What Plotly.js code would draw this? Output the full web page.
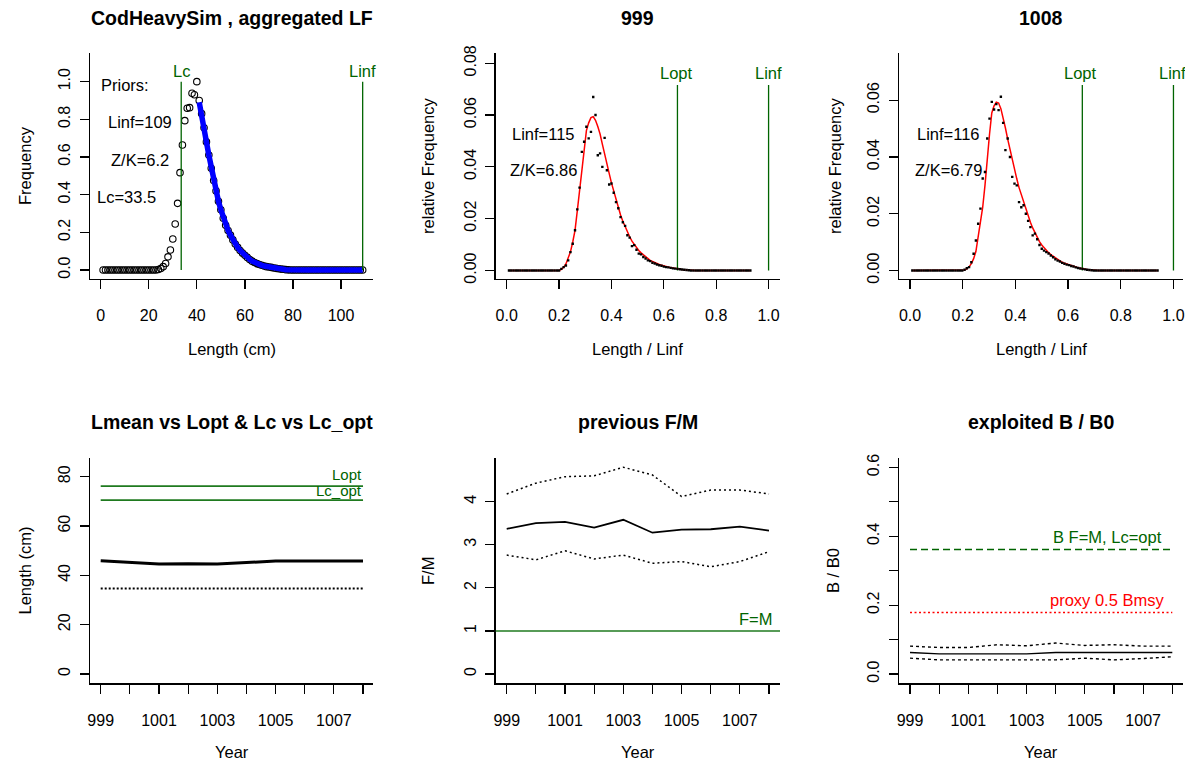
<!DOCTYPE html>
<html>
<head>
<meta charset="utf-8">
<script src="https://cdn.plot.ly/plotly-3.0.1.min.js"></script>
<style>html,body{margin:0;padding:0;background:#fff;}#chart{width:1185px;height:761px;}</style>
</head>
<body>
<div id="chart"></div>
<script>
// ---------- DATA ----------
const lenCm = [1,2,3,4,5,6,7,8,9,10,11,12,13,14,15,16,17,18,19,20,21,22,23,24,25,26,27,28,29,30,31,32,33,34,35,36,37,38,39,40,41,42,43,44,45,46,47,48,49,50,51,52,53,54,55,56,57,58,59,60,61,62,63,64,65,66,67,68,69,70,71,72,73,74,75,76,77,78,79,80,81,82,83,84,85,86,87,88,89,90,91,92,93,94,95,96,97,98,99,100,101,102,103,104,105,106,107,108,109];

// aggregated LF (frequency scaled to max = 1)
const aggFreq = [0,0,0,0,0,0,0,0,0,0,0,0,0,0,0,0,0,0,0,0,0,0,0,
  0.003,0.008,0.018,0.035,0.07,0.106,0.165,0.244,0.354,0.517,0.664,0.793,0.859,0.862,0.938,0.93,1.0,
  0.90,0.83,0.755,0.68,0.61,0.54,0.475,0.42,0.365,0.32,0.275,0.237,0.21,0.185,0.16,0.138,0.12,0.104,0.09,0.078,
  0.067,0.056,0.047,0.04,0.034,0.029,0.025,0.021,0.018,0.016,0.014,0.011,0.009,0.007,0.005,0.004,0.002,0.001,
  0,0,0,0,0,0,0,0,0,0,0,0,0,0,0,0,0,0,0,0,0,0,0,0,0,0,0,0,0,0,0];
// fitted curve (blue) for lengths 41..109
const aggFitLen = [41,42,43,44,45,46,47,48,49,50,51,52,53,54,55,56,57,58,59,60,61,62,63,64,65,66,67,68,69,70,71,72,73,74,75,76,77,78,79,80,81,82,83,84,85,86,87,88,89,90,91,92,93,94,95,96,97,98,99,100,101,102,103,104,105,106,107,108,109];
const aggFit = [0.89,0.83,0.755,0.68,0.61,0.54,0.475,0.42,0.365,0.32,0.275,0.237,0.21,0.185,0.16,0.138,0.12,0.104,0.09,0.078,
  0.067,0.056,0.047,0.04,0.034,0.029,0.025,0.021,0.018,0.016,0.014,0.011,0.009,0.007,0.005,0.004,0.002,0.001,
  0,0,0,0,0,0,0,0,0,0,0,0,0,0,0,0,0,0,0,0,0,0,0,0,0,0,0,0,0,0,0];

const priorLinf = 109, priorZK = 6.2, priorLc = 33.5;

// year 999 (lengths 1..107)
const y999Linf = 115, y999ZK = 6.86, y999Lopt = 0.652;
const y999Obs = [0,0,0,0,0,0,0,0,0,0,0,0,0,0,0,0,0,0,0,0,0,0,0,
  0.0006,0.0013,0.0019,0.0039,0.0071,0.0103,0.0155,0.0236,0.032,0.0458,0.0497,0.0555,0.051,0.0535,0.067,0.060,0.0445,
  0.0452,0.040,0.0512,0.0387,0.0332,0.0336,0.030,0.0264,0.024,0.0206,0.0186,0.0172,0.0136,0.0127,0.0094,0.0098,0.008,
  0.0065,0.0062,0.0052,0.0046,0.0039,0.0036,0.003,0.0027,0.0023,0.002,0.0018,0.0015,0.0013,0.0012,0.001,0.0008,0.0007,
  0.0006,0.0005,0.0004,0.0003,0.0002,0.0001,
  0,0,0,0,0,0,0,0,0,0,0,0,0,0,0,0,0,0,0,0,0,0,0,0,0,0,0];
const y999Fit = [0,0,0,0,0,0,0,0,0,0,0,0,0,0,0,0,0,0,0,0,0,0,0,
  0.0004,0.0012,0.0025,0.0045,0.0072,0.011,0.0155,0.023,0.031,0.040,0.048,0.054,0.057,0.059,0.0594,0.058,0.0556,
  0.0527,0.0488,0.0447,0.041,0.0375,0.0338,0.0305,0.0272,0.0243,0.0214,0.019,0.0168,0.015,0.013,0.0113,0.010,0.0088,
  0.0077,0.0068,0.006,0.0052,0.0045,0.0039,0.0035,0.003,0.0026,0.0023,0.002,0.0017,0.0015,0.0013,0.0011,0.001,0.0008,
  0.0007,0.0005,0.0004,0.0003,0.0002,0.0002,
  0,0,0,0,0,0,0,0,0,0,0,0,0,0,0,0,0,0,0,0,0,0,0,0,0,0,0];

// year 1008 (lengths 1..109)
const y1008Linf = 116, y1008ZK = 6.79, y1008Lopt = 0.654;
const y1008Obs = [0,0,0,0,0,0,0,0,0,0,0,0,0,0,0,0,0,0,0,0,0,0,0,
  0.0003,0.0008,0.0012,0.0029,0.0059,0.0106,0.0165,0.0218,0.0324,0.0347,0.0465,0.0535,0.0594,0.0567,0.0586,0.0565,0.0612,
  0.052,0.0424,0.0465,0.040,0.033,0.0306,0.030,0.0241,0.0223,0.023,0.020,0.0175,0.0153,0.0124,0.013,0.011,0.009,
  0.0077,0.007,0.0065,0.006,0.0053,0.0047,0.004,0.0035,0.0032,0.0027,0.0024,0.0021,0.0019,0.0016,0.0014,0.0011,0.0009,
  0.0007,0.0006,0.0004,0.0003,0.0002,0.0001,
  0,0,0,0,0,0,0,0,0,0,0,0,0,0,0,0,0,0,0,0,0,0,0,0,0,0,0,0,0];
const y1008Fit = [0,0,0,0,0,0,0,0,0,0,0,0,0,0,0,0,0,0,0,0,0,0,0,
  0.0002,0.0006,0.0013,0.0024,0.0042,0.0067,0.0115,0.0165,0.0223,0.030,0.040,0.048,0.0555,0.058,0.0593,0.059,0.057,
  0.054,0.0502,0.0463,0.0425,0.0388,0.0355,0.0323,0.0292,0.0266,0.024,0.0215,0.0192,0.017,0.015,0.0133,0.0117,0.0102,
  0.009,0.008,0.0071,0.0063,0.0056,0.005,0.0044,0.0038,0.0033,0.0029,0.0026,0.0023,0.002,0.0018,0.0015,0.0012,0.001,
  0.0008,0.0006,0.0005,0.0004,0.0003,0.0002,
  0,0,0,0,0,0,0,0,0,0,0,0,0,0,0,0,0,0,0,0,0,0,0,0,0,0,0,0,0];

// time series
const years = [999,1000,1001,1002,1003,1004,1005,1006,1007,1008];
const yearLabels = ['999','','1001','','1003','','1005','','1007',''];
const Lmean = [45.9,45.25,44.6,44.75,44.6,45.2,45.8,45.8,45.8,45.8];
const LcYear = [34.7,34.7,34.8,34.7,34.8,34.7,34.7,34.7,34.7,34.7];
const LoptVal = 76.2, LcOptVal = 70.5;
const FM = [3.37,3.50,3.53,3.40,3.58,3.28,3.35,3.36,3.42,3.33];
const FMup = [4.18,4.43,4.58,4.60,4.80,4.62,4.12,4.27,4.27,4.18];
const FMlo = [2.76,2.65,2.86,2.67,2.76,2.57,2.61,2.49,2.61,2.84];
const BB0 = [0.0625,0.0585,0.0585,0.0585,0.0585,0.0625,0.0625,0.0625,0.0625,0.0625];
const BB0up = [0.081,0.077,0.077,0.085,0.082,0.090,0.083,0.085,0.081,0.081];
const BB0lo = [0.046,0.041,0.041,0.041,0.041,0.041,0.046,0.041,0.045,0.050];
const BFMLcOpt = 0.362, proxyHalfBmsy = 0.179;

// ---------- LAYOUT HELPERS ----------
const W = 1185, H = 761;
const FONT = 'Liberation Sans, Arial, Helvetica, sans-serif';
const GREEN = '#006400';
const fx = p => p / W, fy = p => 1 - p / H;

function axis(domPx, range, extra, isY) {
  const a = {
    domain: isY ? [fy(domPx[1]), fy(domPx[0])] : [fx(domPx[0]), fx(domPx[1])],
    range: range, autorange: false, fixedrange: true,
    showline: true, linecolor: '#000', linewidth: 1.3, mirror: false,
    ticks: 'outside', ticklen: 9, tickwidth: 1.2, tickcolor: '#000',
    showgrid: false, zeroline: false,
    ticklabelstandoff: isY ? 3 : 13,
    tickfont: {family: FONT, size: 16, color: '#000'}
  };
  if (isY) a.tickangle = -90;
  return Object.assign(a, extra);
}

const colX = [[90, 373], [495.7, 780], [899, 1183]];
const topY = [53, 278.5], botY = [458.3, 683.3];

const layout = {
  width: W, height: H, margin: {l: 0, r: 0, t: 0, b: 0},
  paper_bgcolor: '#fff', plot_bgcolor: '#fff', showlegend: false,
  xaxis:  axis(colX[0], [-4.45, 113.3], {anchor: 'y', tickvals: [0,20,40,60,80,100]}),
  yaxis:  axis(topY, [-0.045, 1.152], {anchor: 'x', tickvals: [0,0.2,0.4,0.6,0.8,1.0], tickformat: '.1f'}, true),
  xaxis2: axis(colX[1], [-0.042, 1.0436], {anchor: 'y2', tickvals: [0,0.2,0.4,0.6,0.8,1.0], tickformat: '.1f'}),
  yaxis2: axis(topY, [-0.0031, 0.08396], {anchor: 'x2', tickvals: [0,0.02,0.04,0.06,0.08], tickformat: '.2f'}, true),
  xaxis3: axis(colX[2], [-0.0419, 1.0362], {anchor: 'y3', tickvals: [0,0.2,0.4,0.6,0.8,1.0], tickformat: '.1f'}),
  yaxis3: axis(topY, [-0.0028, 0.0766], {anchor: 'x3', tickvals: [0,0.02,0.04,0.06], tickformat: '.2f'}, true),
  xaxis4: axis(colX[0], [998.633, 1008.342], {anchor: 'y4', tickvals: years, ticktext: yearLabels}),
  yaxis4: axis(botY, [-3.77, 87.47], {anchor: 'x4', tickvals: [0,20,40,60,80]}, true),
  xaxis5: axis(colX[1], [998.622, 1008.377], {anchor: 'y5', tickvals: years, ticktext: yearLabels}),
  yaxis5: axis(botY, [-0.216, 5.007], {anchor: 'x5', tickvals: [0,1,2,3,4]}, true),
  xaxis6: axis(colX[2], [998.622, 1008.367], {anchor: 'y6', tickvals: years, ticktext: yearLabels}),
  yaxis6: axis(botY, [-0.027, 0.6266], {anchor: 'x6', tickvals: [0,0.1,0.2,0.3,0.4,0.5,0.6], ticktext: ['0.0','','0.2','','0.4','','0.6']}, true),
  annotations: [], shapes: []
};

function ann(text, x, y, o) {
  layout.annotations.push(Object.assign({
    text: text, xref: 'paper', yref: 'paper', x: fx(x), y: fy(y),
    xanchor: 'center', yanchor: 'middle', showarrow: false,
    font: {family: FONT, size: 16.5, color: '#000'}
  }, o || {}));
}
const titleFont = {family: FONT, size: 19.5, color: '#000'};
const labFont = {family: FONT, size: 16.5, color: '#000'};
const greenFont = {family: FONT, size: 16.5, color: GREEN};
const greenSmall = {family: FONT, size: 15, color: GREEN};

// titles
ann('<b>CodHeavySim , aggregated LF</b>', 231.5, 18, {font: titleFont});
ann('<b>' + years[0] + '</b>', 637.8, 18, {font: titleFont});
ann('<b>' + years[years.length - 1] + '</b>', 1041, 18, {font: titleFont});
ann('<b>Lmean vs Lopt & Lc vs Lc_opt</b>', 231.7, 422, {font: titleFont});
ann('<b>previous F/M</b>', 637.8, 422, {font: titleFont});
ann('<b>exploited B / B0</b>', 1041, 422, {font: titleFont});

// axis titles
ann('Length (cm)', 231.5, 349, {font: labFont});
ann('Length / Linf', 637.8, 349, {font: labFont});
ann('Length / Linf', 1041, 349, {font: labFont});
ann('Year', 231.7, 752, {font: labFont});
ann('Year', 637.8, 752, {font: labFont});
ann('Year', 1041, 752, {font: labFont});
ann('Frequency', 25, 166, {font: labFont, textangle: -90});
ann('relative Frequency', 428, 166, {font: labFont, textangle: -90});
ann('relative Frequency', 835, 166, {font: labFont, textangle: -90});
ann('Length (cm)', 24.5, 571, {font: labFont, textangle: -90});
ann('F/M', 428, 571, {font: labFont, textangle: -90});
ann('B / B0', 833, 571, {font: labFont, textangle: -90});

// in-plot text
ann('Priors:', 125, 85);
ann('Linf=' + priorLinf, 140, 122);
ann('Z/K=' + priorZK, 140, 160);
ann('Lc=' + priorLc, 126, 197);
ann('Lc', 181, 71, {font: greenFont});
ann('Linf', 362.7, 71, {font: greenFont});
ann('Linf=' + y999Linf, 543.8, 134);
ann('Z/K=' + y999ZK, 543.7, 170);
ann('Lopt', 676, 73, {font: greenFont});
ann('Linf', 768.3, 73, {font: greenFont});
ann('Linf=' + y1008Linf, 948, 134);
ann('Z/K=' + y1008ZK, 948, 170);
ann('Lopt', 1080.5, 73, {font: greenFont});
ann('Linf', 1172.3, 73, {font: greenFont});
ann('Lopt', 363.5, 474, {font: greenSmall, xanchor: 'right'});
ann('Lc_opt', 363.5, 491, {font: greenSmall, xanchor: 'right'});
ann('F=M', 774, 619, {font: greenFont, xanchor: 'right'});
ann('B F=M, Lc=opt', 1164, 536.5, {font: greenFont, xanchor: 'right'});
ann('proxy 0.5 Bmsy', 1166, 600, {font: {family: FONT, size: 16.5, color: '#ff0000'}, xanchor: 'right'});

// F=M reference line spanning the whole plot width
layout.shapes.push({type: 'line', xref: 'x5 domain', yref: 'y5', x0: 0, x1: 1, y0: 1, y1: 1,
  line: {color: '#1f7a1f', width: 1.5}});

// ---------- TRACES ----------
const traces = [];
function vline(xv, ytop, xa, ya) {
  traces.push({x: [xv, xv], y: [0, ytop], xaxis: xa, yaxis: ya, mode: 'lines',
    line: {color: GREEN, width: 1.3}, hoverinfo: 'skip'});
}

// panel 1
traces.push({x: lenCm, y: aggFreq, xaxis: 'x', yaxis: 'y', mode: 'markers',
  marker: {symbol: 'circle-open', size: 6.5, color: '#000', line: {width: 1.1, color: '#000'}}});
traces.push({x: aggFitLen, y: aggFit, xaxis: 'x', yaxis: 'y', mode: 'lines',
  line: {color: '#0000ff', width: 5.5}});
vline(priorLc, 1.0, 'x', 'y');
vline(priorLinf, 1.0, 'x', 'y');

// panel 2
const x999 = lenCm.slice(0, y999Obs.length).map(l => l / y999Linf);
vline(y999Lopt, 0.0716, 'x2', 'y2');
vline(1.0, 0.0716, 'x2', 'y2');
traces.push({x: x999, y: y999Fit, xaxis: 'x2', yaxis: 'y2', mode: 'lines', line: {color: '#ff0000', width: 1.5}});
traces.push({x: x999, y: y999Obs, xaxis: 'x2', yaxis: 'y2', mode: 'markers',
  marker: {symbol: 'square', size: 2.4, color: '#000', line: {width: 0}}});

// panel 3
const x1008 = lenCm.slice(0, y1008Obs.length).map(l => l / y1008Linf);
vline(y1008Lopt, 0.0653, 'x3', 'y3');
vline(1.0, 0.0653, 'x3', 'y3');
traces.push({x: x1008, y: y1008Fit, xaxis: 'x3', yaxis: 'y3', mode: 'lines', line: {color: '#ff0000', width: 1.5}});
traces.push({x: x1008, y: y1008Obs, xaxis: 'x3', yaxis: 'y3', mode: 'markers',
  marker: {symbol: 'square', size: 2.4, color: '#000', line: {width: 0}}});

// panel 4
const yFirstLast = [years[0], years[years.length - 1]];
traces.push({x: yFirstLast, y: [LoptVal, LoptVal], xaxis: 'x4', yaxis: 'y4', mode: 'lines', line: {color: '#1f7a1f', width: 1.6}});
traces.push({x: yFirstLast, y: [LcOptVal, LcOptVal], xaxis: 'x4', yaxis: 'y4', mode: 'lines', line: {color: '#1f7a1f', width: 1.6}});
traces.push({x: years, y: Lmean, xaxis: 'x4', yaxis: 'y4', mode: 'lines', line: {color: '#000', width: 3}});
traces.push({x: years, y: LcYear, xaxis: 'x4', yaxis: 'y4', mode: 'lines', line: {color: '#000', width: 2, dash: '2px,2px'}});

// panel 5
traces.push({x: years, y: FMup, xaxis: 'x5', yaxis: 'y5', mode: 'lines', line: {color: '#000', width: 1.5, dash: '2px,3px'}});
traces.push({x: years, y: FM, xaxis: 'x5', yaxis: 'y5', mode: 'lines', line: {color: '#000', width: 1.8}});
traces.push({x: years, y: FMlo, xaxis: 'x5', yaxis: 'y5', mode: 'lines', line: {color: '#000', width: 1.5, dash: '2px,3px'}});

// panel 6
traces.push({x: yFirstLast, y: [BFMLcOpt, BFMLcOpt], xaxis: 'x6', yaxis: 'y6', mode: 'lines', line: {color: GREEN, width: 1.5, dash: '7px,4px'}});
traces.push({x: yFirstLast, y: [proxyHalfBmsy, proxyHalfBmsy], xaxis: 'x6', yaxis: 'y6', mode: 'lines', line: {color: '#ff0000', width: 1.5, dash: '2px,2.5px'}});
traces.push({x: years, y: BB0up, xaxis: 'x6', yaxis: 'y6', mode: 'lines', line: {color: '#000', width: 1.4, dash: '3px,3px'}});
traces.push({x: years, y: BB0, xaxis: 'x6', yaxis: 'y6', mode: 'lines', line: {color: '#000', width: 1.4}});
traces.push({x: years, y: BB0lo, xaxis: 'x6', yaxis: 'y6', mode: 'lines', line: {color: '#000', width: 1.4, dash: '3px,3px'}});

traces.forEach(t => { t.hoverinfo = 'skip'; t.cliponaxis = true; });

Plotly.newPlot('chart', traces, layout, {staticPlot: true, displayModeBar: false});
</script>
</body>
</html>
